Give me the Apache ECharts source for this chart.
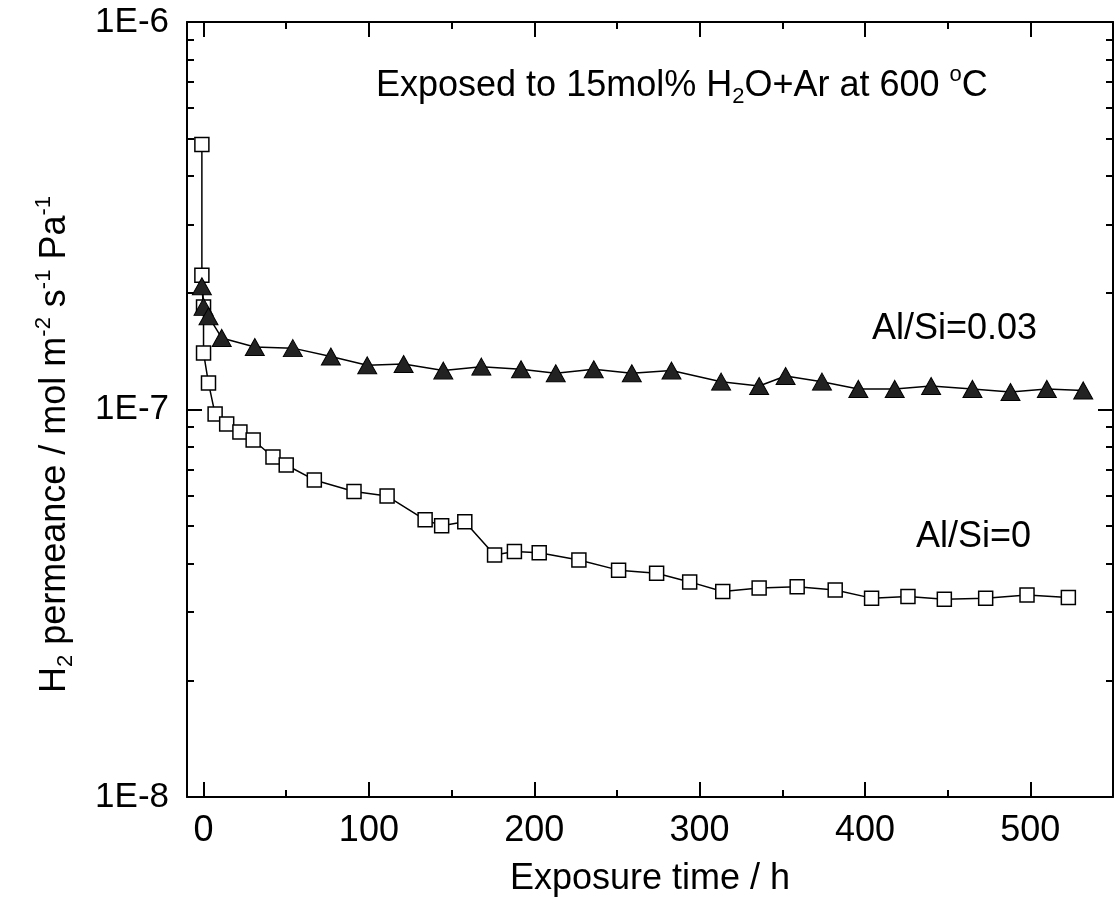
<!DOCTYPE html>
<html>
<head>
<meta charset="utf-8">
<script src="https://cdn.jsdelivr.net/npm/echarts@6/dist/echarts.min.js"></script>
<style>
html, body { margin: 0; padding: 0; background: #fff; }
#chart { width: 1117px; height: 911px; }
</style>
</head>
<body>
<div id="chart"></div>
<script>
// Al/Si=0 (open squares)
var timeAl0 = [-1, -1, 0, 0, 3, 7, 14, 22, 30, 42, 50, 67, 91, 111, 134, 144, 158, 176, 188, 203, 227, 251, 274, 294, 314, 336, 359, 382, 404, 426, 448, 473, 498, 523];
var permAl0 = [4.83e-7, 2.22e-7, 1.84e-7, 1.40e-7, 1.17e-7, 9.73e-8, 9.17e-8, 8.75e-8, 8.34e-8, 7.54e-8, 7.19e-8, 6.58e-8, 6.14e-8, 5.98e-8, 5.19e-8, 5.01e-8, 5.13e-8, 4.21e-8, 4.30e-8, 4.27e-8, 4.09e-8, 3.85e-8, 3.78e-8, 3.59e-8, 3.39e-8, 3.46e-8, 3.49e-8, 3.42e-8, 3.26e-8, 3.29e-8, 3.24e-8, 3.26e-8, 3.32e-8, 3.27e-8];

// Al/Si=0.03 (filled triangles)
var timeAl003 = [-1, 0, 3, 11, 31, 54, 77, 99, 121, 145, 168, 192, 213, 236, 259, 283, 313, 336, 352, 374, 396, 418, 440, 465, 488, 510, 532];
var permAl003 = [2.08e-7, 1.84e-7, 1.74e-7, 1.53e-7, 1.45e-7, 1.44e-7, 1.37e-7, 1.30e-7, 1.31e-7, 1.26e-7, 1.29e-7, 1.27e-7, 1.24e-7, 1.27e-7, 1.24e-7, 1.26e-7, 1.18e-7, 1.15e-7, 1.22e-7, 1.18e-7, 1.13e-7, 1.13e-7, 1.15e-7, 1.13e-7, 1.11e-7, 1.13e-7, 1.12e-7];

var xMajor = [0, 100, 200, 300, 400, 500];
var xMinor = [50, 150, 250, 350, 450, 550];
var yMajor = [1e-8, 1e-7, 1e-6];
var yMinor = [2e-8, 3e-8, 4e-8, 5e-8, 6e-8, 7e-8, 8e-8, 9e-8, 2e-7, 3e-7, 4e-7, 5e-7, 6e-7, 7e-7, 8e-7, 9e-7];

function pairs(xs, ys) {
    return xs.map(function (x, i) { return [x, ys[i]]; });
}

var FONT = 'Liberation Sans';
var myChart = echarts.init(document.getElementById('chart'));

function xAx(pos, ticks, len, showLine, showLabel) {
    return {
        type: 'value', min: -10, max: 550, position: pos,
        splitLine: { show: false },
        axisLine: { show: showLine, onZero: false, lineStyle: { color: '#000', width: 2 } },
        axisTick: { inside: true, length: len, customValues: ticks, lineStyle: { color: '#000', width: 2 } },
        axisLabel: { show: showLabel, customValues: xMajor, fontSize: 36, color: '#000', fontFamily: FONT, margin: 16 }
    };
}
function yAx(pos, ticks, len, showLine, showLabel) {
    return {
        type: 'log', logBase: 10, min: 1e-8, max: 1e-6, position: pos,
        splitLine: { show: false },
        axisLine: { show: showLine, onZero: false, lineStyle: { color: '#000', width: 2 } },
        axisTick: { inside: true, length: len, customValues: ticks, lineStyle: { color: '#000', width: 2 } },
        axisLabel: {
            show: showLabel, customValues: yMajor, fontSize: 35, color: '#000', fontFamily: FONT, margin: 18,
            formatter: function (v) { return '1E' + Math.round(Math.log10(v)); }
        }
    };
}

var xAxes = [xAx('bottom', xMajor, 15, true, true), xAx('bottom', xMinor, 7, false, false),
             xAx('top', xMajor, 15, true, false), xAx('top', xMinor, 7, false, false)];
xAxes[0].name = 'Exposure time / h';
xAxes[0].nameLocation = 'middle';
xAxes[0].nameGap = 64;
xAxes[0].nameTextStyle = { fontSize: 36, color: '#000', fontFamily: FONT };

var yAxes = [yAx('left', yMajor, 15, true, true), yAx('left', yMinor, 7, false, false),
             yAx('right', yMajor, 15, true, false), yAx('right', yMinor, 7, false, false)];
yAxes[0].name = '{n|H}{s|2}{n| permeance / mol m}{p|-2}{n| s}{p|-1}{n| Pa}{p|-1}';
yAxes[0].nameLocation = 'middle';
yAxes[0].nameGap = 110;
yAxes[0].nameTextStyle = {
    color: '#000', fontFamily: FONT,
    padding: [0, 70, 0, 0],
    rich: {
        n: { fontSize: 36, fontFamily: FONT, color: '#000', lineHeight: 44, verticalAlign: 'middle' },
        s: { fontSize: 22, fontFamily: FONT, color: '#000', lineHeight: 44, verticalAlign: 'bottom' },
        p: { fontSize: 22, fontFamily: FONT, color: '#000', lineHeight: 44, verticalAlign: 'top' }
    }
};

var option = {
    backgroundColor: '#fff',
    animation: false,
    grid: { left: 187, right: 4, top: 22, bottom: 114, outerBoundsMode: 'none', containLabel: false },
    xAxis: xAxes,
    yAxis: yAxes,
    graphic: [
        {
            type: 'text', left: 376, top: 64,
            style: {
                text: '{n|Exposed to 15mol% H}{s|2}{n|O+Ar at 600 }{p|o}{n|C}',
                rich: {
                    n: { fontSize: 36, fontFamily: FONT, fill: '#000', lineHeight: 44, verticalAlign: 'middle' },
                    s: { fontSize: 22, fontFamily: FONT, fill: '#000', lineHeight: 44, verticalAlign: 'bottom' },
                    p: { fontSize: 22, fontFamily: FONT, fill: '#000', lineHeight: 44, verticalAlign: 'top' }
                }
            }
        },
        {
            type: 'text', left: 872, top: 311,
            style: { text: 'Al/Si=0.03', fontSize: 36, fontFamily: FONT, fill: '#000' }
        },
        {
            type: 'text', left: 916, top: 519,
            style: { text: 'Al/Si=0', fontSize: 36, fontFamily: FONT, fill: '#000' }
        }
    ],
    series: [
        {
            name: 'Al/Si=0',
            type: 'line',
            xAxisIndex: 0, yAxisIndex: 0,
            data: pairs(timeAl0, permAl0),
            symbol: 'rect',
            symbolSize: 14,
            lineStyle: { color: '#000', width: 1.5 },
            itemStyle: { color: '#fff', borderColor: '#000', borderWidth: 1.5 },
            z: 2
        },
        {
            name: 'Al/Si=0.03',
            type: 'line',
            xAxisIndex: 0, yAxisIndex: 0,
            data: pairs(timeAl003, permAl003),
            symbol: 'triangle',
            symbolSize: [19, 17],
            lineStyle: { color: '#000', width: 1.5 },
            itemStyle: { color: '#222', borderColor: '#000', borderWidth: 1 },
            z: 3
        }
    ]
};

myChart.setOption(option);
</script>
</body>
</html>
